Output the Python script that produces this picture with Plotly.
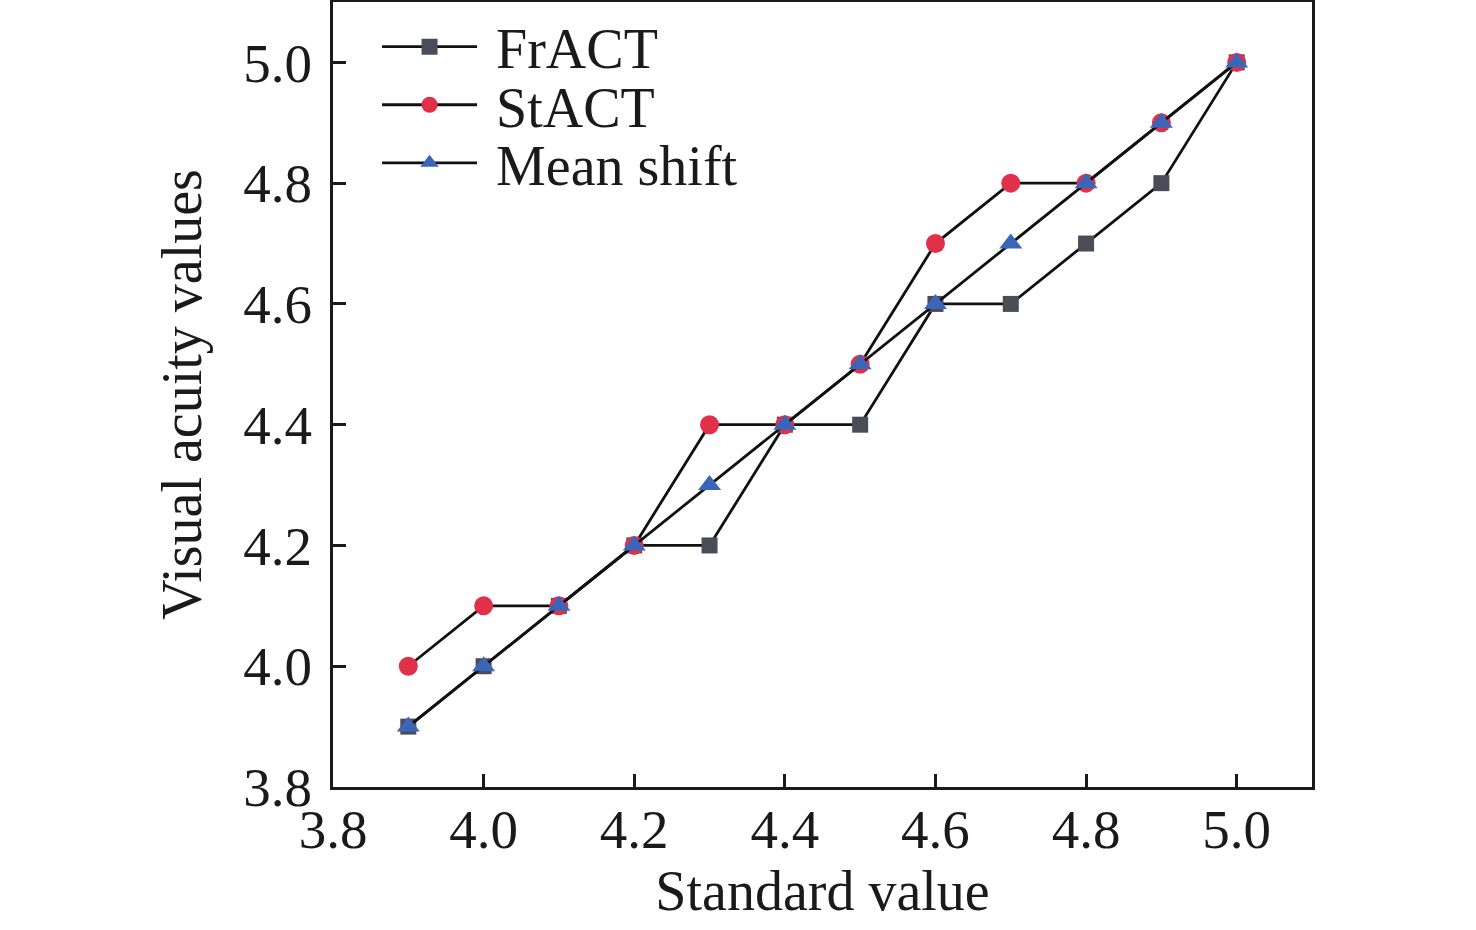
import plotly.graph_objects as go

x_vals = [3.9, 4.0, 4.1, 4.2, 4.3, 4.4, 4.5, 4.6, 4.7, 4.8, 4.9, 5.0]
fract = [3.9, 4.0, 4.1, 4.2, 4.2, 4.4, 4.4, 4.6, 4.6, 4.7, 4.8, 5.0]
stact = [4.0, 4.1, 4.1, 4.2, 4.4, 4.4, 4.5, 4.7, 4.8, 4.8, 4.9, 5.0]
mean_shift = [3.9, 4.0, 4.1, 4.2, 4.3, 4.4, 4.5, 4.6, 4.7, 4.8, 4.9, 5.0]
tick_vals = [3.8, 4.0, 4.2, 4.4, 4.6, 4.8, 5.0]
tick_text = ["3.8", "4.0", "4.2", "4.4", "4.6", "4.8", "5.0"]
series_names = ["FrACT", "StACT", "Mean shift"]

FONT = "Liberation Serif, Times New Roman, serif"
INK = "#1a1a1a"

fig = go.Figure()
fig.add_trace(go.Scatter(x=x_vals, y=fract, name="\u00a0" + series_names[0], mode="lines+markers",
                         legend="legend",
                         line=dict(color="#111111", width=2.8),
                         marker=dict(symbol="square", size=16, color="#4a4d57")))
fig.add_trace(go.Scatter(x=x_vals, y=stact, name="\u00a0" + series_names[1], mode="lines+markers",
                         legend="legend2",
                         line=dict(color="#111111", width=2.8),
                         marker=dict(symbol="circle", size=19, color="#e0304a")))
fig.add_trace(go.Scatter(x=x_vals, y=mean_shift, name="\u00a0" + series_names[2], mode="lines+markers",
                         legend="legend3",
                         line=dict(color="#111111", width=2.8),
                         marker=dict(symbol="triangle-up", size=20, color="#3b66b8")))

axis_common = dict(
    showgrid=False, zeroline=False, showline=True, linecolor=INK, linewidth=3,
    mirror=True, ticks="inside", ticklen=13, tickwidth=3, tickcolor=INK,
    tickfont=dict(family=FONT, size=55, color=INK),
    tickvals=tick_vals, ticktext=tick_text, automargin=False,
)

def leg(y):
    return dict(x=0.045, y=y, xanchor="left", yanchor="middle",
                font=dict(family=FONT, size=56, color=INK),
                bgcolor="rgba(0,0,0,0)", itemwidth=95, tracegroupgap=0)

fig.update_layout(
    width=1476, height=930,
    margin=dict(l=333, r=164, t=2, b=143),
    plot_bgcolor="white", paper_bgcolor="white",
    xaxis=dict(range=[3.8, 5.1], ticklabelstandoff=-8,
               title=dict(text="Standard value", standoff=9,
                          font=dict(family=FONT, size=56, color=INK)), **axis_common),
    yaxis=dict(range=[3.8, 5.1], ticklabelstandoff=7,
               title=dict(text="Visual acuity values", standoff=24,
                          font=dict(family=FONT, size=56, color=INK)), **axis_common),
    legend=leg(0.943),
    legend2=leg(0.869),
    legend3=leg(0.795),
    showlegend=True,
)

fig.write_html("out.html", config={"displayModeBar": False},
               post_script="document.body.style.margin='0';")
